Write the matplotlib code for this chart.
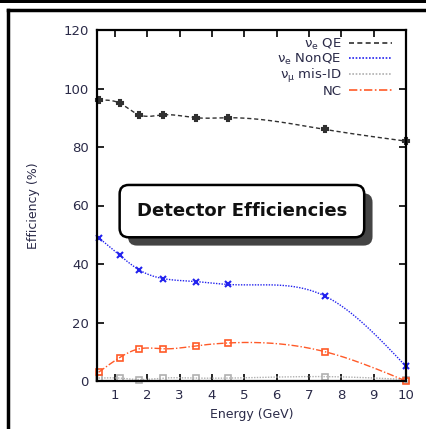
import numpy as np
import matplotlib.pyplot as plt
import matplotlib.patheffects as pe
from matplotlib.lines import Line2D
from matplotlib.patches import Rectangle

# energies (GeV) where the efficiencies were evaluated
energy = [0.5, 1.15, 1.75, 2.5, 3.5, 4.5, 7.5, 10.0]

nue_qe = [96, 95, 91, 91, 90, 90, 86, 82]
nue_nonqe = [49, 43, 38, 35, 34, 33, 29, 5]
numu_misid = [1, 1, 0.5, 1, 1, 1, 1.5, 0.5]
nc = [3, 8, 11, 11, 12, 13, 10, 0]

labels = [r"$\mathregular{\nu_e}$ QE", r"$\mathregular{\nu_e}$ NonQE",
          r"$\mathregular{\nu_\mu}$ mis-ID", "NC"]
colors = ["#303030", "#2222ee", "#b0b0b0", "#ff5a28"]
xticks = [1, 2, 3, 4, 5, 6, 7, 8, 9, 10]
yticks = [0, 20, 40, 60, 80, 100, 120]

text_col = "#2a2a48"
plt.rcParams["mathtext.fontset"] = "dejavusans"


def csplines(x, y, n=300):
    # natural cubic spline, like gnuplot "smooth csplines"
    x = np.asarray(x, float)
    y = np.asarray(y, float)
    h = np.diff(x)
    k = len(x)
    A = np.zeros((k, k))
    b = np.zeros(k)
    A[0, 0] = A[-1, -1] = 1
    for i in range(1, k - 1):
        A[i, i - 1] = h[i - 1]
        A[i, i] = 2 * (h[i - 1] + h[i])
        A[i, i + 1] = h[i]
        b[i] = 6 * ((y[i + 1] - y[i]) / h[i] - (y[i] - y[i - 1]) / h[i - 1])
    M = np.linalg.solve(A, b)
    xs = np.linspace(x[0], x[-1], n)
    idx = np.clip(np.searchsorted(x, xs) - 1, 0, k - 2)
    x0, x1 = x[idx], x[idx + 1]
    hh = x1 - x0
    a = (x1 - xs) / hh
    c = (xs - x0) / hh
    ys = (a * y[idx] + c * y[idx + 1]
          + ((a ** 3 - a) * M[idx] + (c ** 3 - c) * M[idx + 1]) * hh ** 2 / 6)
    return xs, ys


fig = plt.figure(figsize=(4.27, 4.29), dpi=100)
ax = fig.add_axes([97 / 427, 1 - 381 / 429, 309 / 427, 351 / 429])

series = [nue_qe, nue_nonqe, numu_misid, nc]
styles = [(0, (3, 2)), (0, (1, 1)), (0, (1, 1)), (0, (5, 1.5, 1, 1.5))]
markers = ["P", "x", "s", "s"]
handles = []
for vals, col, ls, mk, lab in zip(series, colors, styles, markers, labels):
    xs, ys = csplines(energy, vals)
    ax.plot(xs, ys, color=col, ls=ls, lw=1.0, clip_on=False)
    if mk == "s":
        ax.plot(energy, vals, ls="none", marker=mk, ms=5, mfc="none",
                mec=col, mew=1.2, clip_on=False)
    else:
        ax.plot(energy, vals, ls="none", marker=mk, ms=5, color=col,
                mew=1.5, clip_on=False)
    handles.append(Line2D([], [], color=col, ls=ls, lw=1.2, label=lab))

ax.set_xlim(0.45, 10)
ax.set_ylim(0, 120)
ax.set_xticks(xticks)
ax.set_yticks(yticks)
ax.tick_params(direction="in", top=True, right=True, length=5, width=1.2,
               labelsize=9.5, labelcolor=text_col, pad=6)
for s in ax.spines.values():
    s.set_linewidth(1.6)
ax.set_xlabel("Energy (GeV)", fontsize=9, color=text_col, labelpad=4)
ax.set_ylabel("Efficiency (%)", fontsize=9, color=text_col, labelpad=17)

leg = ax.legend(handles=handles, loc="upper right", frameon=False,
                markerfirst=False, fontsize=9.5, handlelength=3.2,
                handletextpad=0.6, labelspacing=0.0, borderaxespad=0.1,
                bbox_to_anchor=(0.975, 1.0))
for t in leg.get_texts():
    t.set_color(text_col)
    t.set_ha("right")
leg._legend_box.align = "right"

# title box with drop shadow
title = "Detector Efficiencies"
ttl = ax.text(0.469, 0.484, title, transform=ax.transAxes, ha="center",
              va="center", fontsize=13, fontweight="bold", color="#111111",
              bbox=dict(boxstyle="round,pad=0.95,rounding_size=0.5",
                        fc="white", ec="black", lw=1.8), zorder=6)
ttl.get_bbox_patch().set_path_effects([
    pe.SimplePatchShadow(offset=(6, -6), shadow_rgbFace="#444444", alpha=1),
    pe.Normal()])

# slide frame
fig.add_artist(Rectangle((0, 1 - 3 / 429), 1, 3 / 429, transform=fig.transFigure,
                         fc="black", ec="none"))
fig.add_artist(Line2D([8 / 427, 1], [1 - 10 / 429, 1 - 10 / 429],
                      transform=fig.transFigure, color="black", lw=2.5))
fig.add_artist(Line2D([8 / 427, 8 / 427], [1 - 10 / 429, 0],
                      transform=fig.transFigure, color="black", lw=2.5))

fig.savefig("out.png", dpi=100)
